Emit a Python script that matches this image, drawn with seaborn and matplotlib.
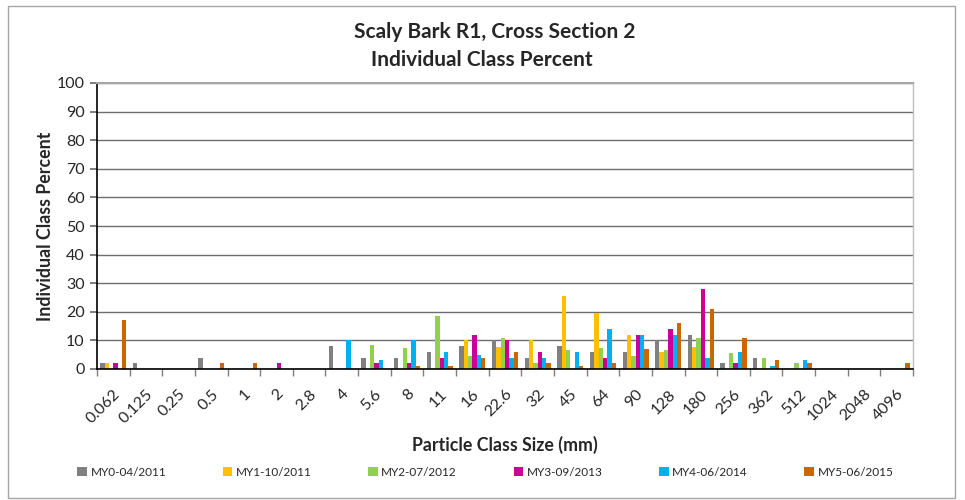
import numpy as np
import pandas as pd
import matplotlib
matplotlib.use("Agg")
import matplotlib.pyplot as plt
import seaborn as sns
from matplotlib.patches import Rectangle, Patch

categories = ["0.062", "0.125", "0.25", "0.5", "1", "2", "2.8", "4", "5.6", "8", "11", "16",
              "22.6", "32", "45", "64", "90", "128", "180", "256", "362", "512", "1024", "2048", "4096"]
series_names = ["MY0-04/2011", "MY1-10/2011", "MY2-07/2012", "MY3-09/2013", "MY4-06/2014", "MY5-06/2015"]
my0 = [2, 2, 0, 4, 0, 0, 0, 8, 4, 4, 6, 8, 10, 4, 8, 6, 6, 10, 12, 2, 4, 0, 0, 0, 0]
my1 = [2, 0, 0, 0, 0, 0, 0, 0, 0, 0, 0, 10, 7.7, 10, 25.5, 19.7, 11.8, 6, 7.7, 0, 0, 0, 0, 0, 0]
my2 = [0, 0, 0, 0, 0, 0, 0, 0, 8.4, 7.5, 18.6, 4.5, 11, 2, 6.6, 7.5, 4.5, 6.6, 11, 5.5, 3.7, 2, 0, 0, 0]
my3 = [2, 0, 0, 0, 0, 2, 0, 0, 2, 2, 4, 12, 10, 6, 0, 4, 12, 14, 28, 2, 0, 0, 0, 0, 0]
my4 = [0, 0, 0, 0, 0, 0, 0, 10, 3, 10, 6, 5, 4, 4, 6, 14, 12, 12, 4, 6, 1, 3, 0, 0, 0]
my5 = [17, 0, 0, 2, 2, 0, 0, 0, 0, 1, 1, 4, 6, 2, 1, 2, 7, 16, 21, 11, 3, 2, 0, 0, 2]
colors = ["#808080", "#FFC000", "#92D050", "#CC0099", "#00B0F0", "#CC6600"]

rows = []
for name, vals in zip(series_names, [my0, my1, my2, my3, my4, my5]):
    for c, v in zip(categories, vals):
        rows.append({"size": c, "series": name, "pct": v})
df = pd.DataFrame(rows)

sns.set_theme(style="white")
plt.rcParams["font.family"] = ["Lato", "DejaVu Sans"]

fig = plt.figure(figsize=(9.65, 5.0), dpi=100)
ax = fig.add_axes([97 / 965, 131 / 500, 816 / 965, 286 / 500])

sns.barplot(data=df, x="size", y="pct", hue="series", order=categories,
            hue_order=series_names, palette=colors, width=0.8, linewidth=0,
            saturation=1, ax=ax, legend=False)

ax.set_ylim(0, 100)
ax.set_xlim(-0.5, len(categories) - 0.5)
ax.set_yticks(np.arange(0, 101, 10))
ax.yaxis.grid(True, color="#6e6e6e", linewidth=1)
ax.set_axisbelow(True)
for s in ["left", "bottom"]:
    ax.spines[s].set_color("black")
    ax.spines[s].set_linewidth(1.2)
ax.spines["right"].set_color("#bfbfbf")
ax.spines["right"].set_linewidth(1)
ax.spines["top"].set_color("#a6a6a6")
ax.spines["top"].set_linewidth(1.5)

ax.tick_params(axis="y", labelsize=11.5, length=5, left=True, color="#6e6e6e", pad=4)
ax.set_xticks(range(len(categories)))
ax.set_xticklabels(categories, rotation=45, ha="right", rotation_mode="anchor", fontsize=11.5)
ax.tick_params(axis="x", length=0, pad=13)
ax.set_xticks(np.arange(-0.5, len(categories), 1), minor=True)
ax.tick_params(axis="x", which="minor", length=5, bottom=True, color="#7f7f7f")

ax.set_xlabel("Particle Class Size (mm)", fontsize=12.8, fontweight="bold", labelpad=7)
ax.set_ylabel("Individual Class Percent", fontsize=12.8, fontweight="bold", labelpad=2)

fig.text(495 / 965, 1 - 32 / 500, "Scaly Bark R1, Cross Section 2", ha="center", va="center",
         fontsize=15, fontweight="bold")
fig.text(482 / 965, 1 - 60 / 500, "Individual Class Percent", ha="center", va="center",
         fontsize=15, fontweight="bold")

handles = [Patch(facecolor=c, edgecolor="none") for c in colors]
fig.legend(handles, series_names, loc="center", ncol=6, bbox_to_anchor=(0.503, 1 - 472 / 500),
           frameon=False, fontsize=8.5, handlelength=0.8, handleheight=0.8, handletextpad=0.3,
           columnspacing=4.8)

fig.patches.append(Rectangle((8 / 965, 2 / 500), 947 / 965, 492 / 500, transform=fig.transFigure,
                             fill=False, edgecolor="#a6a6a6", linewidth=1))

fig.savefig("out.png", dpi=100)
